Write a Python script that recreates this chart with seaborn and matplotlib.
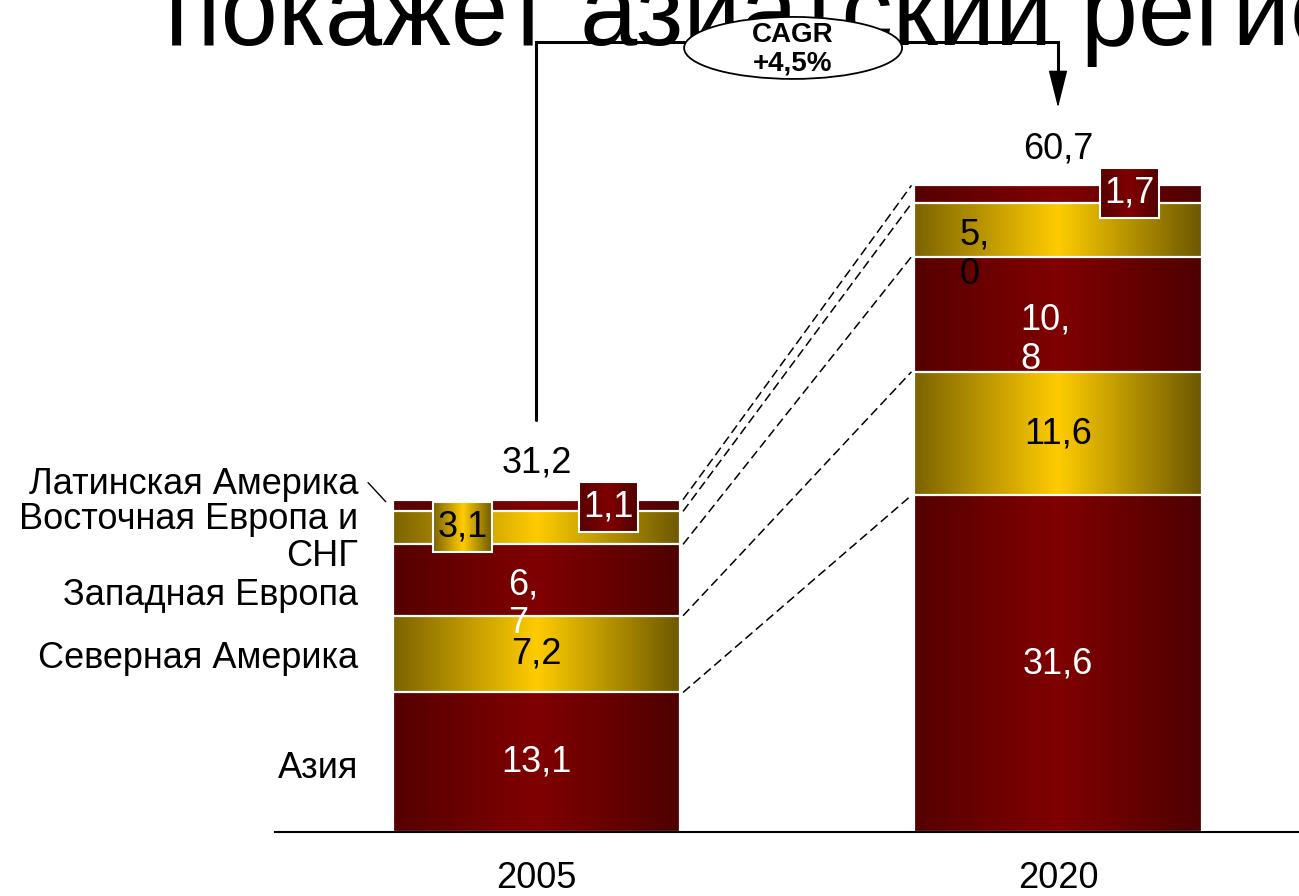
import numpy as np
import matplotlib
matplotlib.use("Agg")
import matplotlib.pyplot as plt
import seaborn as sns
from matplotlib.colors import LinearSegmentedColormap
from matplotlib.patches import Ellipse, Rectangle

# data
years = ["2005", "2020"]
region_names = ["Азия", "Северная Америка", "Западная Европа",
                "Восточная Европа и\nСНГ", "Латинская Америка"]
asia = [13.1, 31.6]
north_america = [7.2, 11.6]
west_europe = [6.7, 10.8]
east_europe = [3.1, 5.0]
latin_america = [1.1, 1.7]
totals = [31.2, 60.7]
cagr_text = "CAGR\n+4,5%"
title_text = "покажет азиатский регион"

layers = np.array([asia, north_america, west_europe, east_europe, latin_america])
cum = np.cumsum(layers, axis=0)
bottoms = cum - layers


def fmt(v):
    return f"{v:.1f}".replace(".", ",")


red_cmap = LinearSegmentedColormap.from_list("red", ["#560000", "#800000", "#4e0000"])
gold_cmap = LinearSegmentedColormap.from_list("gold", ["#7c6300", "#ffcc00", "#6c5800"])
layer_cmaps = [red_cmap, gold_cmap, red_cmap, gold_cmap, red_cmap]
text_colors = ["white", "black", "white", "black", "white"]

sns.set_style("white")
plt.rcParams['font.family'] = ['Liberation Sans', 'DejaVu Sans']
plt.rcParams['text.color'] = 'black'
plt.rcParams['xtick.color'] = 'black'

fig = plt.figure(figsize=(12.99, 8.96), dpi=100)
ax = fig.add_axes([275 / 1299, 64 / 896, 1024 / 1299, 832 / 896])
ax.patch.set_alpha(0)

bar_w = 0.552
grad = np.linspace(0, 1, 256).reshape(1, -1)
FS = 26

# stacked bars: draw cumulative bars from the top layer down
for i in reversed(range(len(layers))):
    n0 = len(ax.patches)
    sns.barplot(x=years, y=cum[i], color="white", width=bar_w, saturation=1,
                errorbar=None, ax=ax)
    z = 2 + (len(layers) - 1 - i) * 2
    for p in ax.patches[n0:]:
        x0, w, h = p.get_x(), p.get_width(), p.get_height()
        p.set_facecolor("none")
        p.set_edgecolor("white")
        p.set_linewidth(1.6)
        p.set_zorder(z + 1)
        im = ax.imshow(grad, cmap=layer_cmaps[i], extent=[x0, x0 + w, 0, h],
                       aspect="auto", zorder=z, interpolation="bicubic")
        im.set_clip_path(p)


def grad_box(cx, cy, cmap, text, color):
    bw, bh = 0.114, 4.7
    r = Rectangle((cx - bw / 2, cy - bh / 2), bw, bh, fc="none", ec="white",
                  lw=1.5, zorder=21)
    ax.add_patch(r)
    im = ax.imshow(grad, cmap=cmap, extent=[cx - bw / 2, cx + bw / 2, cy - bh / 2, cy + bh / 2],
                   aspect="auto", zorder=20, interpolation="bicubic")
    im.set_clip_path(r)
    ax.text(cx, cy, text, ha="center", va="center", color=color, fontsize=FS, zorder=22)


# segment labels
for i in range(len(layers)):
    for j in range(len(years)):
        v = layers[i][j]
        mid = bottoms[i][j] + v / 2
        label = fmt(v)
        if (i, j) == (2, 0):
            ax.text(-0.055, 21.4, label.replace(",", ",\n"), ha="left", va="center",
                    color="white", fontsize=FS, zorder=22, linespacing=1.15)
        elif (i, j) == (2, 1):
            ax.text(0.927, 46.2, label.replace(",", ",\n"), ha="left", va="center",
                    color="white", fontsize=FS, zorder=22, linespacing=1.15)
        elif (i, j) == (3, 1):
            ax.text(0.812, 54.2, label.replace(",", ",\n"), ha="left", va="center",
                    color="black", fontsize=FS, zorder=22, linespacing=1.15)
        elif (i, j) == (3, 0):
            grad_box(-0.142, 28.6, gold_cmap, label, "black")
        elif (i, j) == (4, 0):
            grad_box(0.138, 30.5, red_cmap, label, "white")
        elif (i, j) == (4, 1):
            grad_box(1.137, 60.0, red_cmap, label, "white")
        else:
            ax.text(j, mid, label, ha="center", va="center", color=text_colors[i],
                    fontsize=FS, zorder=22)

# dashed connectors between the bars
for k in range(len(layers)):
    ax.plot([bar_w / 2 + 0.005, 1 - bar_w / 2 - 0.005], [cum[k][0], cum[k][1]],
            color="black", lw=1.1, ls=(0, (6, 3)), zorder=15)

# region names on the left
name_y = [6.0, 16.3, 22.2, 27.6, 32.6]
for name, y in zip(region_names, name_y):
    ax.text(-0.342, y, name, ha="right", va="center", multialignment="right",
            fontsize=FS, clip_on=False, linespacing=1.1)
ax.plot([-0.323, -0.289], [32.8, 31.0], color="black", lw=1, clip_on=False)

# totals
for j, t in enumerate(totals):
    ax.text(j, t + 3.4, fmt(t), ha="center", va="center", fontsize=FS, zorder=22)

# CAGR bracket
top_y = 74.2
tip_y = totals[1] + 7.3
head_len = 3.0
ax.plot([0, 0, 1, 1], [totals[0] + 7.5, top_y, top_y, tip_y + head_len], color="black",
        lw=2.2, solid_joinstyle="miter", zorder=25, clip_on=False)
ax.annotate("", xy=(1, tip_y), xytext=(1, tip_y + head_len + 0.3),
            arrowprops=dict(arrowstyle="-|>,head_length=1.2,head_width=0.3",
                            mutation_scale=20, lw=1.0, color="black",
                            shrinkA=0, shrinkB=0), zorder=25)
ax.add_patch(Ellipse((0.492, 73.6), 0.418, 5.82, fc="white", ec="black", lw=1.3,
                     zorder=30, clip_on=False))
ax.text(0.492, 73.5, cagr_text, ha="center", va="center", fontsize=20,
        fontweight="bold", zorder=31, linespacing=1.1)

# title, partly cut off by the top of the slide
ax.text(165 / 1299, 1 - 45 / 896, title_text, transform=fig.transFigure,
        fontsize=74, ha="left", va="baseline", zorder=1, clip_on=False)

ax.set_xlim(-0.5014, 1.4621)
ax.set_ylim(0, 78.1)
ax.set_xlabel("")
ax.set_ylabel("")
ax.set_yticks([])
for s in ["left", "right", "top"]:
    ax.spines[s].set_visible(False)
ax.spines["bottom"].set_color("black")
ax.spines["bottom"].set_linewidth(1.5)
ax.spines["bottom"].set_zorder(50)
ax.tick_params(axis="x", length=0, pad=21, labelsize=FS)

fig.savefig("out.png", dpi=100)
